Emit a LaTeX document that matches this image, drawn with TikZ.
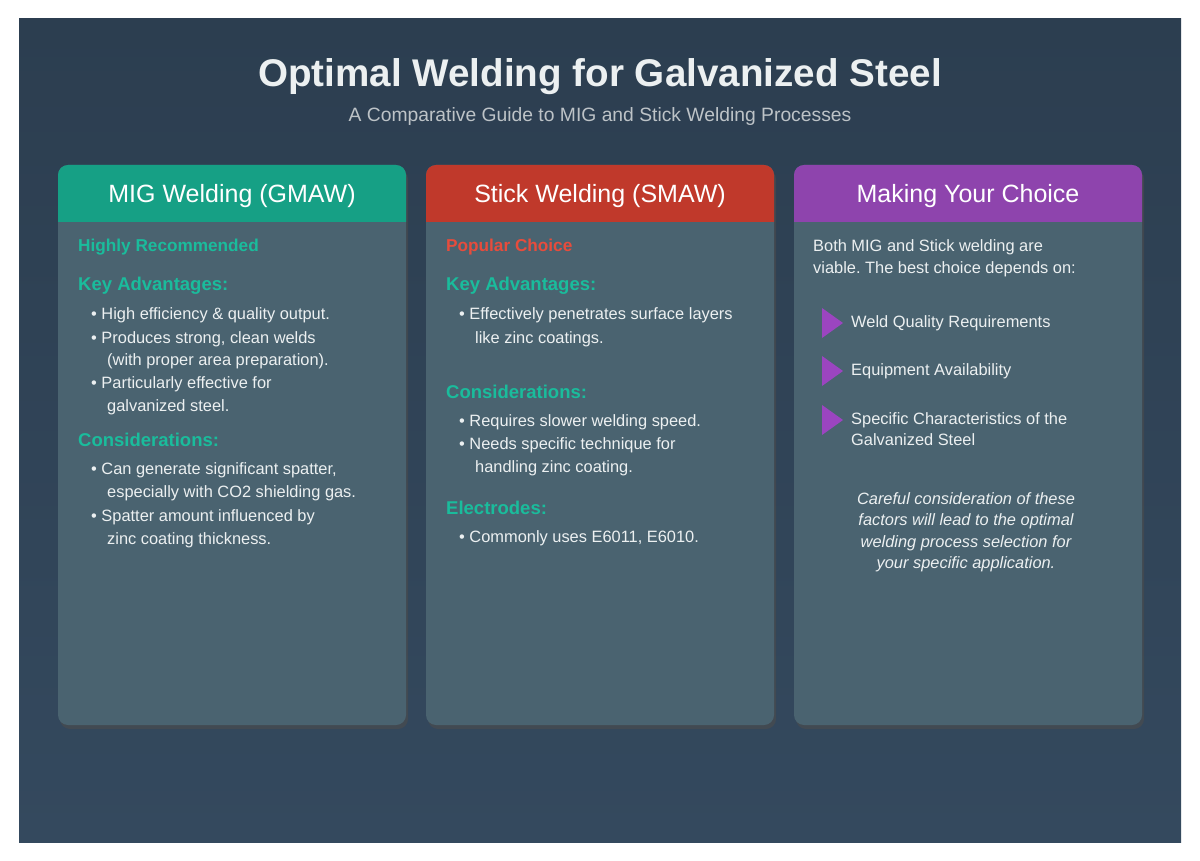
\documentclass[tikz,border=0pt]{standalone}
\usepackage{fontspec}
\setmainfont{Liberation Sans}
\usetikzlibrary{shadows}
\frenchspacing
\definecolor{bgA}{HTML}{2C3E50}
\definecolor{bgB}{HTML}{34495E}
\definecolor{body}{HTML}{4A6370}
\definecolor{teal}{HTML}{16A085}
\definecolor{tealt}{HTML}{1ABC9C}
\definecolor{redc}{HTML}{C0392B}
\definecolor{redt}{HTML}{E74C3C}
\definecolor{purp}{HTML}{8E44AD}
\definecolor{tri}{HTML}{9B45C0}
\definecolor{txt}{HTML}{ECF0F1}
\definecolor{sub}{HTML}{BDC3C7}
\tikzset{
 card/.style={fill=body,rounded corners=10pt,drop shadow={shadow xshift=2pt,shadow yshift=-4pt,opacity=0.6,fill=black!70}},
 tag/.style={anchor=west,font=\fontsize{17.2}{20}\selectfont\bfseries,inner sep=0},
 sect/.style={anchor=west,text=tealt,font=\fontsize{18.5}{21}\selectfont\bfseries,inner sep=0},
 bl/.style={anchor=west,text=txt,font=\fontsize{16.4}{19}\selectfont,inner sep=0},
 hd/.style={text=white,font=\fontsize{25}{28}\selectfont},
 it/.style={text=txt,font=\fontsize{16.4}{19}\selectfont\itshape,inner sep=0},
}
\begin{document}
\begin{tikzpicture}[x=1pt,y=-1pt]
\useasboundingbox (0,0) rectangle (1200,861);
\fill[white] (0,0) rectangle (1200,861);
\shade[top color=bgA,bottom color=bgB] (19,19) rectangle (1181,842);
\node[text=txt,font=\fontsize{38.6}{44}\selectfont\bfseries] (title) at (600,77) {Optimal Welding for Galvanized Steel};
\node[text=sub,font=\fontsize{19.3}{23}\selectfont] (subt) at (600,117) {A Comparative Guide to MIG and Stick Welding Processes};
% cards
\foreach \x/\c/\n in {58/teal/a,426/redc/b,794/purp/c}{
 \path[card] (\x,165) rectangle (\x+348,725);
 \path[fill=\c,rounded corners=10pt] (\x,222) -- (\x,165) -- (\x+348,165) -- (\x+348,222);
 \fill[\c] (\x,212) rectangle (\x+348,222);
}
\begin{scope}[yshift=-2pt]
\node[hd] (ha) at (232,194) {MIG Welding (GMAW)};
\node[hd] (hb) at (600,194) {Stick Welding (SMAW)};
\node[hd] (hc) at (968,194) {Making Your Choice};
% card 1
\node[tag,text=tealt] (a1) at (78,245) {Highly Recommended};
\node[sect] (a2) at (78,284) {Key Advantages:};
\node[bl] (a3) at (91,313) {• High efficiency \& quality output.};
\node[bl] (a4) at (91,337) {• Produces strong, clean welds};
\node[bl] (a5) at (107,359) {(with proper area preparation).};
\node[bl] (a6) at (91,382) {• Particularly effective for};
\node[bl] (a7) at (107,405) {galvanized steel.};
\node[sect] (a8) at (78,438) {Considerations:};
\node[bl] (a9) at (91,468) {• Can generate significant spatter,};
\node[bl] (a10) at (107,491) {especially with CO2 shielding gas.};
\node[bl] (a11) at (91,515) {• Spatter amount influenced by};
\node[bl] (a12) at (107,538) {zinc coating thickness.};
% card 2
\node[tag,text=redt] (b1) at (446,245) {Popular Choice};
\node[sect] (b2) at (446,284) {Key Advantages:};
\node[bl] (b3) at (459,313) {• Effectively penetrates surface layers};
\node[bl] (b4) at (475,337) {like zinc coatings.};
\node[sect] (b5) at (446,390) {Considerations:};
\node[bl] (b6) at (459,420) {• Requires slower welding speed.};
\node[bl] (b7) at (459,443) {• Needs specific technique for};
\node[bl] (b8) at (475,466) {handling zinc coating.};
\node[sect] (b9) at (446,506) {Electrodes:};
\node[bl] (b10) at (459,536) {• Commonly uses E6011, E6010.};
% card 3
\node[bl] (c1) at (813,245) {Both MIG and Stick welding are};
\node[bl] (c2) at (813,267) {viable. The best choice depends on:};
\foreach \y/\t [count=\i] in {321/Weld Quality Requirements,369/Equipment Availability,418/Specific Characteristics of the}{
 \fill[tri] (822,\y-15) -- (843,\y) -- (822,\y+15) -- cycle;
 \node[bl] (d\i) at (851,\y) {\t};
}
\node[bl] (d4) at (851,438) {Galvanized Steel};
\node[it] (e1) at (966,497) {Careful consideration of these};
\node[it] (e2) at (966,519) {factors will lead to the optimal};
\node[it] (e3) at (966,541) {welding process selection for};
\node[it] (e4) at (966,562) {your specific application.};
\end{scope}
\end{tikzpicture}
\end{document}
